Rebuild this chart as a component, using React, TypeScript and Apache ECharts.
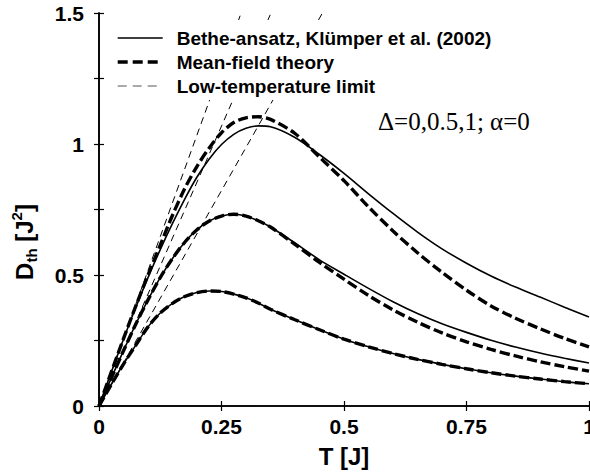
import React, { useEffect, useRef } from 'react';
import * as echarts from 'echarts';

// Temperature grid (T in units of J)
const T = [0, 0.025, 0.05, 0.075, 0.1, 0.125, 0.15, 0.175, 0.2, 0.225, 0.25, 0.275, 0.3, 0.325, 0.35, 0.4, 0.45, 0.5, 0.55, 0.6, 0.65, 0.7, 0.75, 0.8, 0.85, 0.9, 0.95, 1.0];

// Delta = 0 (Bethe ansatz and mean-field coincide)
const baDelta0 = [0, 0.082, 0.160, 0.232, 0.302, 0.355, 0.392, 0.418, 0.433, 0.439, 0.437, 0.427, 0.413, 0.393, 0.369, 0.329, 0.291, 0.255, 0.226, 0.200, 0.178, 0.159, 0.142, 0.127, 0.114, 0.103, 0.093, 0.085];
const mfDelta0 = [0, 0.082, 0.160, 0.232, 0.302, 0.355, 0.392, 0.418, 0.433, 0.439, 0.437, 0.427, 0.413, 0.393, 0.369, 0.329, 0.291, 0.255, 0.226, 0.200, 0.178, 0.159, 0.142, 0.127, 0.114, 0.103, 0.093, 0.085];

// Delta = 0.5
const baDelta05 = [0, 0.106, 0.211, 0.312, 0.405, 0.490, 0.563, 0.625, 0.673, 0.706, 0.725, 0.732, 0.725, 0.707, 0.683, 0.622, 0.558, 0.503, 0.449, 0.398, 0.353, 0.314, 0.281, 0.251, 0.225, 0.202, 0.182, 0.164];
const mfDelta05 = [0, 0.106, 0.211, 0.312, 0.405, 0.490, 0.563, 0.625, 0.673, 0.706, 0.725, 0.732, 0.725, 0.707, 0.683, 0.617, 0.548, 0.484, 0.422, 0.367, 0.320, 0.279, 0.245, 0.216, 0.191, 0.169, 0.150, 0.133];

// Delta = 1
const baDelta1 = [0, 0.129, 0.255, 0.376, 0.490, 0.597, 0.697, 0.790, 0.874, 0.943, 0.998, 1.037, 1.060, 1.069, 1.066, 1.025, 0.960, 0.888, 0.810, 0.735, 0.664, 0.600, 0.545, 0.496, 0.454, 0.416, 0.377, 0.340];
const mfDelta1 = [0, 0.129, 0.257, 0.381, 0.500, 0.614, 0.728, 0.830, 0.915, 0.985, 1.043, 1.082, 1.100, 1.104, 1.094, 1.040, 0.950, 0.860, 0.760, 0.668, 0.585, 0.510, 0.442, 0.382, 0.335, 0.295, 0.258, 0.226];

// Low-temperature limits (straight lines through the origin): [T, D] end points
const lowTDelta0 = [[0, 0], [0.456, 1.5]];
const lowTDelta05 = [[0, 0], [0.351, 1.5]];
const lowTDelta1 = [[0, 0], [0.290, 1.5]];

// Tick labels
const xTickValues = [0, 0.25, 0.5, 0.75, 1];
const xTickLabels = ['0', '0.25', '0.5', '0.75', '1'];
const yTickValues = [0, 0.5, 1, 1.5];
const yTickLabels = ['0', '0.5', '1', '1.5'];

const NAME_BA = 'Bethe-ansatz, Klümper et al. (2002)';
const NAME_MF = 'Mean-field theory';
const NAME_LT = 'Low-temperature limit';
const ANNOT = 'Δ=0,0.5,1; α=0';

const FONT = '"Liberation Sans", Arial, Helvetica, sans-serif';
const SERIF = '"Liberation Serif", "Times New Roman", Times, serif';

function lookup(values: number[], labels: string[], v: number) {
  for (let i = 0; i < values.length; i++) {
    if (Math.abs(values[i] - v) < 1e-9) return labels[i];
  }
  return '';
}

export default function App() {
  const ref = useRef<HTMLDivElement>(null);

  useEffect(() => {
    if (!ref.current) return;
    const chart = echarts.init(ref.current, null, { renderer: 'svg' });
    const pairs = (ys: number[]) => T.map((t, i) => [t, ys[i]]);

    const baLine = { color: '#000', width: 1.6, type: 'solid' };
    const mfLine = { color: '#000', width: 3.4, type: [10, 4] };
    const ltLine = { color: '#000', width: 1, type: [7, 5] };

    const mk = (name: string, data: any[], lineStyle: any, smooth: any) => ({
      type: 'line',
      name,
      data,
      symbol: 'none',
      showSymbol: false,
      smooth,
      lineStyle,
      itemStyle: { color: '#000' },
      silent: true,
      emphasis: { disabled: true },
      z: 2,
    });

    const axisCommon = {
      type: 'value',
      axisLine: { show: true, lineStyle: { color: '#000', width: 1.6 } },
      axisTick: { show: true, inside: true, length: 5, lineStyle: { color: '#000', width: 1.2 } },
      splitLine: { show: false },
    };

    const option: any = {
      animation: false,
      backgroundColor: '#fff',
      grid: { left: 99, right: 1, top: 13, bottom: 68, containLabel: false, outerBoundsMode: 'none' },
      xAxis: [
        {
          ...axisCommon,
          min: 0,
          max: 1,
          interval: 0.25,
          position: 'bottom',
          axisLabel: {
            show: true,
            margin: 10,
            color: '#000',
            fontSize: 21,
            fontWeight: 'bold',
            fontFamily: FONT,
            showMinLabel: true,
            showMaxLabel: true,
            formatter: (v: number) => lookup(xTickValues, xTickLabels, v),
          },
          name: 'T [J]',
          nameLocation: 'middle',
          nameGap: 38,
          nameTextStyle: { color: '#000', fontSize: 24, fontWeight: 'bold', fontFamily: FONT },
        },
        {
          ...axisCommon,
          min: 0,
          max: 1,
          interval: 0.25,
          position: 'top',
          axisLabel: { show: false },
        },
      ],
      yAxis: [
        {
          ...axisCommon,
          min: 0,
          max: 1.5,
          interval: 0.25,
          position: 'left',
          axisLabel: {
            show: true,
            margin: 15,
            color: '#000',
            fontSize: 21,
            fontWeight: 'bold',
            fontFamily: FONT,
            showMinLabel: true,
            showMaxLabel: true,
            formatter: (v: number) => lookup(yTickValues, yTickLabels, v),
          },
        },
        {
          ...axisCommon,
          min: 0,
          max: 1.5,
          interval: 0.25,
          position: 'right',
          axisLabel: { show: false },
        },
      ],
      legend: {
        show: true,
        orient: 'vertical',
        left: 108,
        top: 20,
        padding: [8, 12, 4, 8],
        backgroundColor: '#fff',
        itemWidth: 45,
        itemHeight: 14,
        itemGap: 4,
        selectedMode: false,
        itemStyle: { opacity: 0 },
        data: [
          { name: NAME_BA, lineStyle: { color: '#000', width: 1.6, type: 'solid' } },
          { name: NAME_MF, lineStyle: { color: '#000', width: 3.4, type: [10, 5] } },
          { name: NAME_LT, lineStyle: { color: '#555', width: 1, type: [9, 6] } },
        ],
        textStyle: {
          color: '#000',
          fontSize: 19,
          fontWeight: 'bold',
          fontFamily: FONT,
          lineHeight: 20,
          padding: [0, 0, 0, 9],
        },
        z: 10,
      },
      graphic: [
        {
          type: 'text',
          left: 378,
          top: 109,
          silent: true,
          style: {
            text: ANNOT,
            fill: '#000',
            font: '25px ' + SERIF,
          },
          z: 20,
        },
        {
          type: 'text',
          x: 24,
          y: 242,
          rotation: Math.PI / 2,
          silent: true,
          style: {
            text: '{m|D}{s|th}{m| [J}{p|2}{m|]}',
            align: 'center',
            verticalAlign: 'middle',
            fill: '#000',
            rich: {
              m: { fontSize: 24, fontWeight: 'bold', fontFamily: FONT, lineHeight: 30, fill: '#000' },
              s: { fontSize: 15, fontWeight: 'bold', fontFamily: FONT, lineHeight: 15, verticalAlign: 'bottom', fill: '#000' },
              p: { fontSize: 15, fontWeight: 'bold', fontFamily: FONT, lineHeight: 15, verticalAlign: 'top', fill: '#000' },
            },
          },
          z: 20,
        },
      ],
      series: [
        mk(NAME_BA, pairs(baDelta1), baLine, 0.3),
        mk(NAME_BA, pairs(baDelta05), baLine, 0.3),
        mk(NAME_BA, pairs(baDelta0), baLine, 0.3),
        mk(NAME_MF, pairs(mfDelta1), mfLine, 0.3),
        mk(NAME_MF, pairs(mfDelta05), mfLine, 0.3),
        mk(NAME_MF, pairs(mfDelta0), mfLine, 0.3),
        mk(NAME_LT, lowTDelta0, ltLine, false),
        mk(NAME_LT, lowTDelta05, ltLine, false),
        mk(NAME_LT, lowTDelta1, ltLine, false),
      ],
    };

    chart.setOption(option);
    return () => chart.dispose();
  }, []);

  return (
    <div
      ref={ref}
      style={{ position: 'absolute', left: 0, top: 0, width: 590, height: 474, background: '#fff' }}
    />
  );
}
